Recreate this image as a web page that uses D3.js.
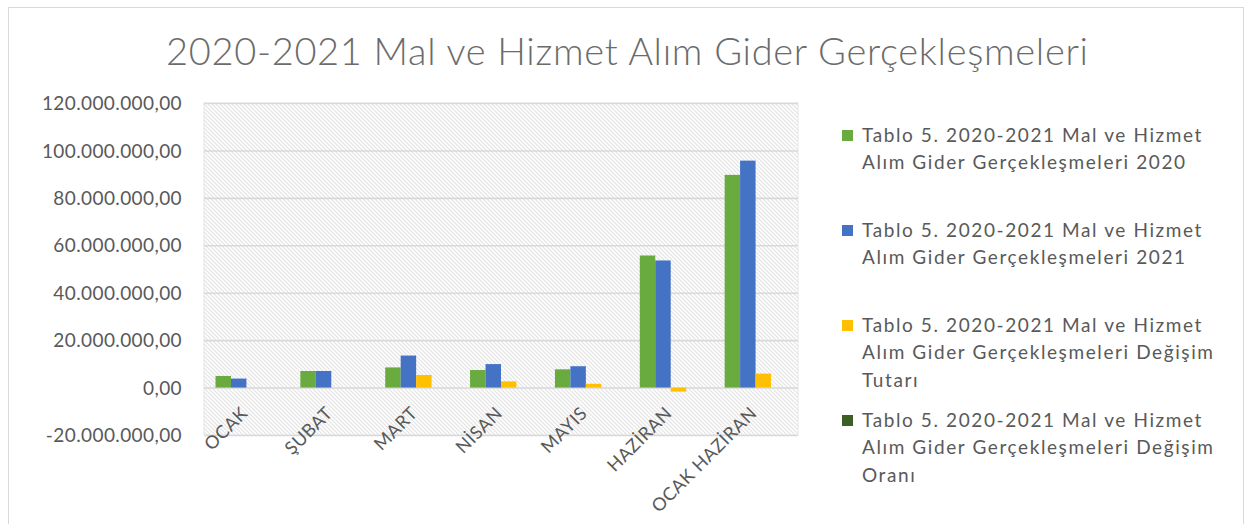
<!DOCTYPE html>
<html>
<head>
<meta charset="utf-8">
<script src="https://cdn.jsdelivr.net/npm/d3@7"></script>
<style>
  body { margin: 0; background: #fff; }
  svg text { font-family: Lato, "Open Sans", sans-serif; fill: #595959; }
</style>
</head>
<body>
<svg id="chart" width="1249" height="524"></svg>
<script>
// categories (x axis)
const months = ["OCAK", "ŞUBAT", "MART", "NİSAN", "MAYIS", "HAZİRAN", "OCAK HAZİRAN"];

// series values
const gider2020 = [4900000, 7000000, 8500000, 7400000, 7700000, 55700000, 89700000];
const gider2021 = [3800000, 7000000, 13500000, 9900000, 9000000, 53600000, 95700000];
const degisimTutari = [0, 0, 5300000, 2600000, 1600000, -1700000, 5900000];
const degisimOrani = [0, 0, 0.6, 0.3, 0.2, 0, 0.1];

const seriesNames = [
  "Tablo 5. 2020-2021 Mal ve Hizmet Alım Gider Gerçekleşmeleri 2020",
  "Tablo 5. 2020-2021 Mal ve Hizmet Alım Gider Gerçekleşmeleri 2021",
  "Tablo 5. 2020-2021 Mal ve Hizmet Alım Gider Gerçekleşmeleri Değişim Tutarı",
  "Tablo 5. 2020-2021 Mal ve Hizmet Alım Gider Gerçekleşmeleri Değişim Oranı"
];
// legend lines as wrapped in the picture
const legendLines = [
  ["Tablo 5. 2020-2021 Mal ve Hizmet", "Alım Gider Gerçekleşmeleri 2020"],
  ["Tablo 5. 2020-2021 Mal ve Hizmet", "Alım Gider Gerçekleşmeleri 2021"],
  ["Tablo 5. 2020-2021 Mal ve Hizmet", "Alım Gider Gerçekleşmeleri Değişim", "Tutarı"],
  ["Tablo 5. 2020-2021 Mal ve Hizmet", "Alım Gider Gerçekleşmeleri Değişim", "Oranı"]
];
const colors = ["#6aab3f", "#4472c4", "#ffc000", "#3d5f26"];
const yTicks = [-20000000, 0, 20000000, 40000000, 60000000, 80000000, 100000000, 120000000];

const svg = d3.select("#chart");
const plot = { left: 204, right: 798, top: 103, bottom: 435 };

// outer chart frame
svg.append("rect")
  .attr("x", 8.5).attr("y", 7.5)
  .attr("width", 1235).attr("height", 530)
  .attr("fill", "#fff")
  .attr("stroke", "#d9d9d9");

// hatched plot background
const defs = svg.append("defs");
const pat = defs.append("pattern")
  .attr("id", "hatch")
  .attr("patternUnits", "userSpaceOnUse")
  .attr("width", 4).attr("height", 4);
pat.append("rect").attr("width", 4).attr("height", 4).attr("fill", "#fff");
pat.append("path")
  .attr("d", "M-1,-1 L5,5 M-1,3 L1,5 M3,-1 L5,1")
  .attr("stroke", "#e3e3e3")
  .attr("stroke-width", 1.2);

svg.append("rect")
  .attr("x", plot.left).attr("y", plot.top)
  .attr("width", plot.right - plot.left)
  .attr("height", plot.bottom - plot.top)
  .attr("fill", "url(#hatch)")
  .attr("stroke", "#e6e6e6");

// title
svg.append("text")
  .attr("x", 627).attr("y", 65)
  .attr("text-anchor", "middle")
  .style("font-size", "38px")
  .style("font-weight", 300)
  .style("fill", "#6b6b6b")
  .attr("textLength", 922)
  .attr("lengthAdjust", "spacing")
  .text("2020-2021 Mal ve Hizmet Alım Gider Gerçekleşmeleri");

const y = d3.scaleLinear()
  .domain([-20000000, 120000000])
  .range([plot.bottom, plot.top]);

const x0 = d3.scaleBand()
  .domain(months)
  .range([plot.left, plot.right])
  .padding(0);

const x1 = d3.scaleBand()
  .domain(d3.range(4))
  .range([11.5, x0.bandwidth() - 11.5])
  .padding(0);

const fmt = v => {
  const s = d3.format(",.2f")(v);
  return s.replace(/,/g, "#").replace(".", ",").replace(/#/g, ".").replace("−", "-");
};

// y axis: gridlines and labels
const yAxis = d3.axisLeft(y)
  .tickValues(yTicks)
  .tickSize(-(plot.right - plot.left))
  .tickFormat(fmt)
  .tickPadding(22);

const yg = svg.append("g")
  .attr("transform", `translate(${plot.left},0)`)
  .call(yAxis);
yg.select(".domain").remove();
yg.selectAll(".tick line")
  .attr("stroke", "#d9d9d9")
  .attr("stroke-width", 1.6);
yg.selectAll(".tick text")
  .style("font-size", "19px")
  .style("letter-spacing", "0.4px")
  .style("fill", "#595959")
  .attr("dy", "0.35em");

// bars
const data = months.map((m, i) => ({
  month: m,
  values: [gider2020[i], gider2021[i], degisimTutari[i], degisimOrani[i]]
}));

const groups = svg.append("g")
  .selectAll("g")
  .data(data)
  .join("g")
  .attr("transform", d => `translate(${x0(d.month)},0)`);

groups.selectAll("rect")
  .data(d => d.values.map((v, k) => ({ v, k })))
  .join("rect")
  .attr("x", d => x1(d.k))
  .attr("width", x1.bandwidth())
  .attr("y", d => y(Math.max(0, d.v)))
  .attr("height", d => Math.abs(y(d.v) - y(0)))
  .attr("fill", d => colors[d.k]);

// x labels, rotated
svg.append("g")
  .selectAll("text")
  .data(months)
  .join("text")
  .attr("transform", d => `translate(${x0(d) + x0.bandwidth() / 2 - 2},${plot.bottom - 25}) rotate(-45)`)
  .attr("text-anchor", "end")
  .attr("dy", "0.35em")
  .style("font-size", "18px")
  .style("letter-spacing", "0.5px")
  .text(d => d);

// legend
const legend = svg.append("g")
  .selectAll("g")
  .data(seriesNames)
  .join("g")
  .attr("transform", (d, i) => `translate(842,${135 + i * 95})`);

legend.append("rect")
  .attr("x", 0).attr("y", -5)
  .attr("width", 11).attr("height", 11)
  .attr("fill", (d, i) => colors[i]);

legend.each(function(d, i) {
  const g = d3.select(this);
  legendLines[i].forEach((line, j) => {
    g.append("text")
      .attr("x", 20)
      .attr("y", j * 27.5)
      .attr("dy", "0.35em")
      .style("font-size", "19px")
      .style("letter-spacing", "1.6px")
      .text(line);
  });
});
</script>
</body>
</html>
